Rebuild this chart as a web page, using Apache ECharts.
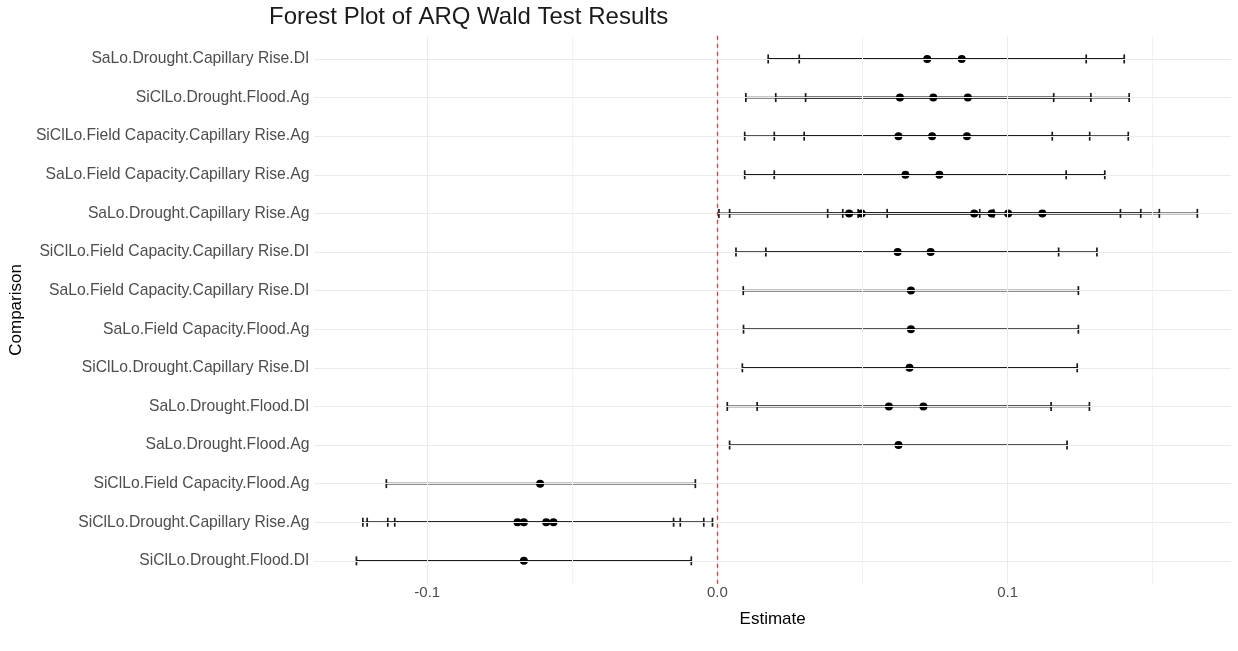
<!DOCTYPE html>
<html>
<head>
<meta charset="utf-8">
<script src="https://cdn.jsdelivr.net/npm/echarts@6/dist/echarts.min.js"></script>
<style>
html,body{margin:0;padding:0;background:#fff;}
#chart{width:1238px;height:651px;}
</style>
</head>
<body>
<div id="chart"></div>
<script>
const comparisons = [
  "SaLo.Drought.Capillary Rise.DI",
  "SiClLo.Drought.Flood.Ag",
  "SiClLo.Field Capacity.Capillary Rise.Ag",
  "SaLo.Field Capacity.Capillary Rise.Ag",
  "SaLo.Drought.Capillary Rise.Ag",
  "SiClLo.Field Capacity.Capillary Rise.DI",
  "SaLo.Field Capacity.Capillary Rise.DI",
  "SaLo.Field Capacity.Flood.Ag",
  "SiClLo.Drought.Capillary Rise.DI",
  "SaLo.Drought.Flood.DI",
  "SaLo.Drought.Flood.Ag",
  "SiClLo.Field Capacity.Flood.Ag",
  "SiClLo.Drought.Capillary Rise.Ag",
  "SiClLo.Drought.Flood.DI"
];
const estimates = [
  [0.0723, 0.0842],
  [0.0629, 0.0744, 0.0863],
  [0.0624, 0.0740, 0.0860],
  [0.0648, 0.0765],
  [0.0454, 0.0497, 0.0885, 0.0945, 0.1002, 0.1120],
  [0.0621, 0.0735],
  [0.0667],
  [0.0667],
  [0.0662],
  [0.0591, 0.0710],
  [0.0624],
  [-0.0611],
  [-0.0689, -0.0667, -0.0590, -0.0565],
  [-0.0667]
];
const lowerCI = [
  [0.0175, 0.0282],
  [0.0098, 0.0201, 0.0304],
  [0.0094, 0.0196, 0.0299],
  [0.0094, 0.0196],
  [0.0005, 0.0042, 0.0380, 0.0432, 0.0485, 0.0585],
  [0.0064, 0.0167],
  [0.0089],
  [0.0090],
  [0.0086],
  [0.0034, 0.0137],
  [0.0042],
  [-0.1141],
  [-0.1222, -0.1207, -0.1136, -0.1112],
  [-0.1244]
];
const upperCI = [
  [0.1271, 0.1402],
  [0.1159, 0.1287, 0.1419],
  [0.1154, 0.1283, 0.1416],
  [0.1202, 0.1335],
  [0.0904, 0.0952, 0.1389, 0.1459, 0.1523, 0.1654],
  [0.1176, 0.1308],
  [0.1244],
  [0.1244],
  [0.1240],
  [0.1150, 0.1282],
  [0.1205],
  [-0.0076],
  [-0.0151, -0.0128, -0.0047, -0.0017],
  [-0.0090]
];
const xMajorTicks = [-0.1, 0, 0.1];
const xTickLabels = ["-0.1", "0.0", "0.1"];
const xMinorTicks = [-0.05, 0.05, 0.15];
const referenceLine = 0;

// build data
const pointData = [];
const barData = [];
comparisons.forEach((c, i) => {
  estimates[i].forEach((e, j) => {
    pointData.push([e, i + 1]);
    barData.push([lowerCI[i][j], upperCI[i][j], i + 1]);
  });
});
const rowPositions = comparisons.map((c, i) => i + 1);

const gridColor = '#EBEBEB';
const chart = echarts.init(document.getElementById('chart'), null, {renderer: 'canvas'});
const FONT = '"Liberation Sans", Arial, sans-serif';

chart.setOption({
  animation: false,
  backgroundColor: '#ffffff',
  title: {
    text: 'Forest Plot of ARQ Wald Test Results',
    left: 264,
    top: 0,
    textStyle: {fontFamily: FONT, fontSize: 24, fontWeight: 'normal', color: '#1a1a1a'}
  },
  grid: {left: 308, right: 7, top: 35.8, bottom: 67, containLabel: false},
  xAxis: {
    type: 'value',
    min: -0.1389,
    max: 0.177,
    name: 'Estimate',
    nameLocation: 'middle',
    nameGap: 27,
    nameTextStyle: {fontFamily: FONT, fontSize: 17, color: '#000'},
    axisLine: {show: false},
    axisTick: {show: false},
    splitLine: {show: false},
    axisLabel: {
      customValues: xMajorTicks,
      formatter: v => xTickLabels[xMajorTicks.findIndex(t => Math.abs(t - v) < 1e-9)] ?? '',
      fontFamily: FONT, fontSize: 15, color: '#4D4D4D', margin: 1
    }
  },
  yAxis: {
    type: 'value',
    inverse: true,
    min: 0.4,
    max: 14.6,
    name: 'Comparison',
    nameLocation: 'middle',
    nameRotate: 90,
    nameGap: 281,
    nameTextStyle: {fontFamily: FONT, fontSize: 17, color: '#000'},
    axisLine: {show: false},
    axisTick: {show: false},
    splitLine: {show: false},
    axisLabel: {
      customValues: rowPositions,
      formatter: v => comparisons[Math.round(v) - 1] || '',
      fontFamily: FONT, fontSize: 15.7, color: '#4D4D4D', margin: 5
    }
  },
  series: [
    {
      type: 'line',
      data: [],
      silent: true,
      z: 1,
      markLine: {
        silent: true,
        symbol: ['none', 'none'],
        label: {show: false},
        animation: false,
        data: [
          ...xMinorTicks.map(v => ({xAxis: v, lineStyle: {color: '#F2F2F2', width: 1, type: 'solid'}})),
          ...xMajorTicks.map(v => ({xAxis: v, lineStyle: {color: gridColor, width: 1.1, type: 'solid'}})),
          ...rowPositions.map(v => ({yAxis: v, lineStyle: {color: gridColor, width: 1.1, type: 'solid'}}))
        ]
      }
    },
    {
      type: 'custom',
      z: 3,
      data: barData,
      encode: {x: [0, 1], y: 2},
      renderItem: function (params, api) {
        const y = api.value(2);
        const p1 = api.coord([api.value(0), y]);
        const p2 = api.coord([api.value(1), y]);
        const h = 4.5;
        const style = {stroke: '#1a1a1a', lineWidth: 1.7};
        return {
          type: 'group',
          children: [
            {type: 'line', shape: {x1: p1[0], y1: p1[1], x2: p2[0], y2: p2[1]}, style: style},
            {type: 'line', shape: {x1: p1[0], y1: p1[1] - h, x2: p1[0], y2: p1[1] + h}, style: style},
            {type: 'line', shape: {x1: p2[0], y1: p2[1] - h, x2: p2[0], y2: p2[1] + h}, style: style}
          ]
        };
      }
    },
    {
      type: 'scatter',
      z: 4,
      data: pointData,
      symbol: 'circle',
      symbolSize: 8,
      itemStyle: {color: '#000', opacity: 1},
      markLine: {
        silent: true,
        symbol: ['none', 'none'],
        label: {show: false},
        animation: false,
        data: [{xAxis: referenceLine}],
        lineStyle: {color: '#D63A34', width: 1.3, type: [4, 4]}
      }
    }
  ]
});
</script>
</body>
</html>
